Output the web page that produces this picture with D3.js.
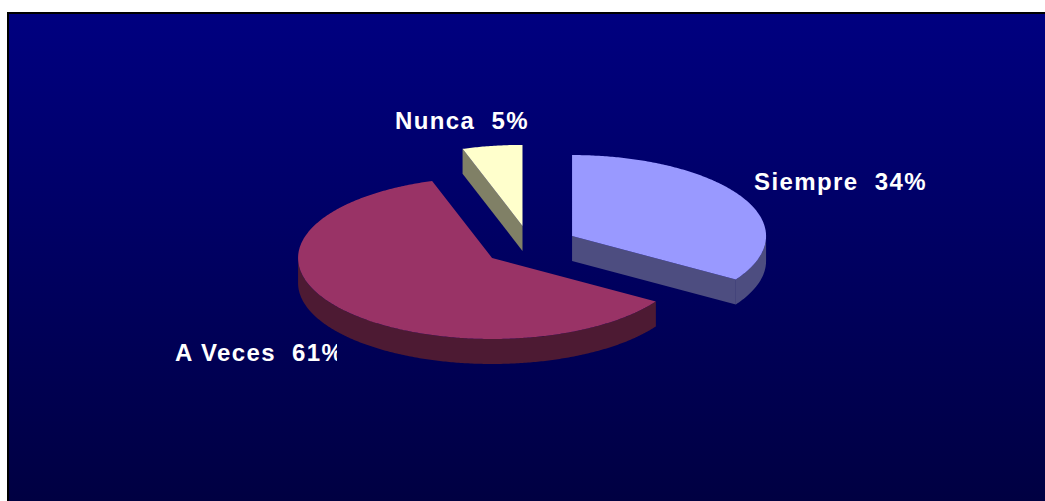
<!DOCTYPE html>
<html>
<head>
<meta charset="utf-8">
<script src="https://cdn.jsdelivr.net/npm/d3@7"></script>
<style>
  html, body { margin: 0; padding: 0; background: #ffffff; }
  svg { display: block; }
  text { white-space: pre; }
</style>
</head>
<body>
<svg id="chart" width="1045" height="501"></svg>
<script>
// Survey answers
const categories = ["Siempre", "A Veces", "Nunca"];
const percents   = [34, 61, 5];
const labelTexts = ["Siempre  34%", "A Veces  61%", "Nunca  5%"];

const topColors  = ["#9999ff", "#993366", "#ffffcc"];
const sideColors = ["#4d4d80", "#4d1a33", "#808066"];

const W = 1045, H = 501;
const svg = d3.select("#chart");

// Background panel with vertical gradient
const defs = svg.append("defs");
const grad = defs.append("linearGradient")
  .attr("id", "bg").attr("x1", 0).attr("y1", 0).attr("x2", 0).attr("y2", 1);
grad.append("stop").attr("offset", "0%").attr("stop-color", "#000080");
grad.append("stop").attr("offset", "100%").attr("stop-color", "#00003f");

svg.append("rect")
  .attr("x", 8).attr("y", 13)
  .attr("width", W + 10).attr("height", H + 10)
  .attr("fill", "url(#bg)")
  .attr("stroke", "#000").attr("stroke-width", 2);

// 3D pie geometry (tilted ellipse)
const cx = 530, cy = 245.7;     // pie centre before exploding
const rx = 194, ry = 81;        // ellipse radii of the top face
const depth = 25;               // slab thickness
const explode = 48;             // explosion distance (in x-radius units)
const k = ry / rx;

const pie = d3.pie().sort(null).startAngle(0).endAngle(2 * Math.PI);
const arcs = pie(percents);

const line = d3.line();
const TAU = 2 * Math.PI;

function sliceCentre(a) {
  const mid = (a.startAngle + a.endAngle) / 2;
  return [cx + explode * Math.sin(mid), cy - explode * k * Math.cos(mid)];
}
function rim(c, ang, dy = 0) {
  return [c[0] + rx * Math.sin(ang), c[1] - ry * Math.cos(ang) + dy];
}
function sampleArc(c, a0, a1, dy) {
  const n = Math.max(2, Math.ceil((a1 - a0) / 0.01));
  return d3.range(n + 1).map(i => rim(c, a0 + (a1 - a0) * i / n, dy));
}

// draw slices back to front
const order = arcs.map((a, i) => ({ a, i, c: sliceCentre(a) }))
  .sort((p, q) => p.c[1] - q.c[1]);

const g = svg.append("g");

order.forEach(({ a, i, c }) => {
  const a0 = a.startAngle, a1 = a.endAngle;
  const sg = g.append("g");

  // radial walls facing the viewer
  [[a0, a0 - Math.PI / 2], [a1, a1 + Math.PI / 2]].forEach(([ang, normal]) => {
    if (-Math.cos(normal) > 0.001) {
      const p = rim(c, ang);
      const pts = [c, p, [p[0], p[1] + depth], [c[0], c[1] + depth]];
      sg.append("path").attr("d", line(pts) + "Z")
        .attr("fill", sideColors[i]);
    }
  });

  // outer wall on the front half of the ellipse
  const f0 = Math.max(a0, Math.PI / 2), f1 = Math.min(a1, 3 * Math.PI / 2);
  if (f1 > f0) {
    const topEdge = sampleArc(c, f0, f1, 0);
    const botEdge = sampleArc(c, f0, f1, depth).reverse();
    sg.append("path").attr("d", line(topEdge.concat(botEdge)) + "Z")
      .attr("fill", sideColors[i]);
  }

  // top face
  const face = [c].concat(sampleArc(c, a0, a1, 0));
  sg.append("path").attr("d", line(face) + "Z")
    .attr("fill", topColors[i]);
});

// data labels
const labelLayout = [
  { x: 754, y: 190 },
  { x: 175, y: 361, clip: 337 },
  { x: 395, y: 129 }
];

labelTexts.forEach((t, i) => {
  const L = labelLayout[i];
  const txt = svg.append("text")
    .attr("x", L.x).attr("y", L.y)
    .attr("fill", "#ffffff")
    .attr("font-family", "'Liberation Sans', Arial, sans-serif")
    .attr("font-weight", "bold")
    .attr("font-size", 24)
    .attr("letter-spacing", "1.4px")
    .text(t);
  if (L.clip) {
    const id = "clip" + i;
    defs.append("clipPath").attr("id", id)
      .append("rect").attr("x", 0).attr("y", 0)
      .attr("width", L.clip).attr("height", H);
    txt.attr("clip-path", `url(#${id})`);
  }
});
</script>
</body>
</html>
